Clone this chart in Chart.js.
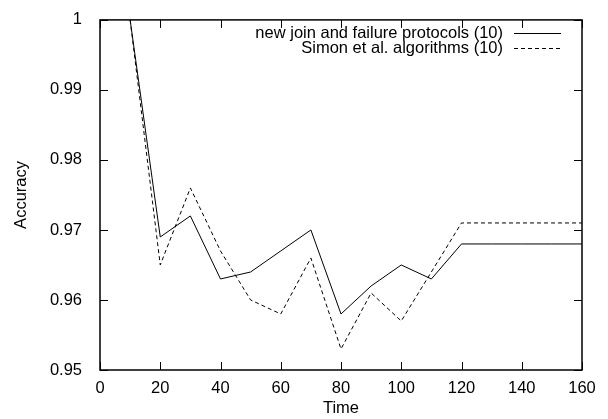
<!DOCTYPE html>
<html lang="en">
<head>
  <meta charset="UTF-8" />
  <title>Accuracy over time</title>
  <style>
    * { margin: 0; padding: 0; box-sizing: border-box; }
    body { background: #fff; }
    .wrap { width: 608px; height: 419px; }
  </style>
</head>
<body>
  <div class="wrap"><canvas id="accChart" width="608" height="419"></canvas></div>

  <script src="https://cdn.jsdelivr.net/npm/chart.js"></script>
  <script>
    // data
    const times = [10, 20, 30, 40, 50, 60, 70, 80, 90, 100, 110, 120, 130, 140, 150, 160];
    const newProtocols = [1, 0.969, 0.972, 0.963, 0.964, 0.967, 0.970, 0.958, 0.962, 0.965, 0.963, 0.968, 0.968, 0.968, 0.968, 0.968];
    const simonAlgos = [1, 0.965, 0.976, 0.967, 0.960, 0.958, 0.966, 0.953, 0.961, 0.957, 0.964, 0.971, 0.971, 0.971, 0.971, 0.971];
    const seriesNames = ['new join and failure protocols (10)', 'Simon et al. algorithms (10)'];

    const FONT = { family: '"Liberation Sans", Arial, sans-serif', size: 16.5 };

    function pts(ys) {
      return times.map((t, i) => ({ x: t, y: ys[i] }));
    }

    // gnuplot style frame with inward ticks on all four sides
    const framePlugin = {
      id: 'frame',
      afterDatasetsDraw(chart) {
        const { ctx, chartArea: a, scales } = chart;
        ctx.save();
        ctx.strokeStyle = '#000';
        ctx.lineWidth = 1.5;
        ctx.strokeRect(a.left, a.top, a.right - a.left, a.bottom - a.top);
        ctx.lineWidth = 1;
        ctx.beginPath();
        scales.x.ticks.forEach(t => {
          const px = Math.round(scales.x.getPixelForValue(t.value)) + 0.5;
          ctx.moveTo(px, a.bottom); ctx.lineTo(px, a.bottom - 8);
          ctx.moveTo(px, a.top); ctx.lineTo(px, a.top + 8);
        });
        scales.y.ticks.forEach(t => {
          const py = Math.round(scales.y.getPixelForValue(t.value)) + 0.5;
          ctx.moveTo(a.left, py); ctx.lineTo(a.left + 8, py);
          ctx.moveTo(a.right, py); ctx.lineTo(a.right - 8, py);
        });
        ctx.stroke();
        ctx.restore();
      }
    };

    // key in the top right corner: text first, then a line sample
    const keyPlugin = {
      id: 'key',
      afterDatasetsDraw(chart) {
        const { ctx } = chart;
        ctx.save();
        ctx.font = FONT.size + 'px ' + FONT.family;
        ctx.fillStyle = '#000';
        ctx.textAlign = 'right';
        ctx.textBaseline = 'middle';
        chart.data.datasets.forEach((ds, i) => {
          const y = 33 + i * 15;
          ctx.fillText(ds.label, 503, y);
          ctx.beginPath();
          ctx.setLineDash(ds.borderDash || []);
          ctx.lineWidth = 1;
          ctx.strokeStyle = ds.borderColor;
          ctx.moveTo(514, Math.round(y) + 0.5);
          ctx.lineTo(561, Math.round(y) + 0.5);
          ctx.stroke();
        });
        ctx.restore();
      }
    };

    new Chart(document.getElementById('accChart'), {
      type: 'line',
      data: {
        datasets: [
          {
            label: seriesNames[0],
            data: pts(newProtocols),
            borderColor: '#000',
            borderWidth: 1,
            pointRadius: 0,
            tension: 0
          },
          {
            label: seriesNames[1],
            data: pts(simonAlgos),
            borderColor: '#000',
            borderWidth: 1,
            borderDash: [4, 3],
            pointRadius: 0,
            tension: 0
          }
        ]
      },
      options: {
        responsive: false,
        animation: false,
        layout: { padding: { top: 15, right: 26, left: 0, bottom: 0 } },
        plugins: { legend: { display: false }, tooltip: { enabled: false } },
        scales: {
          x: {
            type: 'linear',
            min: 0,
            max: 160,
            grid: { display: false },
            border: { display: false },
            ticks: { stepSize: 20, color: '#000', font: FONT, padding: 1, maxRotation: 0 },
            title: { display: true, text: 'Time', color: '#000', font: FONT, padding: { top: 0, bottom: 1 } },
            afterFit(s) { s.height = 49; }
          },
          y: {
            min: 0.95,
            max: 1,
            grid: { display: false },
            border: { display: false },
            ticks: {
              stepSize: 0.01,
              color: '#000',
              font: FONT,
              padding: 10,
              callback: v => String(Number(v.toFixed(2)))
            },
            title: { display: true, text: 'Accuracy', color: '#000', font: FONT, padding: { top: 12, bottom: 0 } },
            afterFit(s) { s.width = 100; }
          }
        }
      },
      plugins: [framePlugin, keyPlugin]
    });
  </script>
</body>
</html>
